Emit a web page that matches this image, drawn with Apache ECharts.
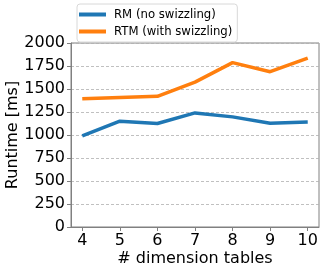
<!DOCTYPE html>
<html><head><meta charset="utf-8">
<script src="https://cdn.jsdelivr.net/npm/echarts@6/dist/echarts.min.js"></script>
<style>html,body{margin:0;padding:0;background:#fff}#c{width:324px;height:273px}</style>
</head><body><div id="c"></div>
<script>
const categories = [4, 5, 6, 7, 8, 9, 10];
const rmValues = [990, 1150, 1125, 1240, 1197, 1128, 1140];
const rtmValues = [1395, 1408, 1420, 1575, 1787, 1688, 1835];
const yTicks = [0, 250, 500, 750, 1000, 1250, 1500, 1750, 2000];
const seriesNames = ['RM (no swizzling)', 'RTM (with swizzling)'];

const chart = echarts.init(document.getElementById('c'), null, {renderer: 'canvas'});
const font = 'DejaVu Sans';
chart.setOption({
  animation: false,
  grid: {left: 71, right: 5, top: 43, bottom: 46, show: true, borderColor: '#808080', borderWidth: 1,
         containLabel: false, outerBoundsMode: 'none'},
  legend: {
    orient: 'vertical', left: 77, top: 4, z: 10,
    backgroundColor: '#fff', borderColor: '#d8d8d8', borderWidth: 1, borderRadius: 3,
    padding: [4, 5, 4, 2], itemGap: 4, itemWidth: 27, itemHeight: 4, icon: 'rect',
    textStyle: {fontFamily: font, fontSize: 11.7, lineHeight: 13, color: '#000', padding: [0, 0, 0, 3]},
    data: seriesNames
  },
  xAxis: {
    type: 'value', min: 3.7, max: 10.3,
    name: '# dimension tables', nameLocation: 'middle', nameGap: 24, nameMoveOverlap: false,
    nameTextStyle: {fontFamily: font, fontSize: 16, color: '#000'},
    axisLine: {show: true, lineStyle: {color: '#808080'}},
    axisTick: {show: true, length: 4, lineStyle: {color: '#808080'}, customValues: categories},
    axisLabel: {fontFamily: font, fontSize: 16, color: '#000', margin: 6, customValues: categories},
    splitLine: {show: false}
  },
  yAxis: {
    type: 'value', min: 0, max: 2000, interval: 250,
    name: 'Runtime [ms]', nameLocation: 'middle', nameGap: 50, nameMoveOverlap: false,
    nameTextStyle: {fontFamily: font, fontSize: 16, color: '#000'},
    axisLine: {show: true, lineStyle: {color: '#808080'}},
    axisTick: {show: true, length: 4, lineStyle: {color: '#808080'}},
    axisLabel: {fontFamily: font, fontSize: 16, color: '#000', margin: 6,
      formatter: v => yTicks.includes(v) ? String(v) : ''},
    splitLine: {show: true, lineStyle: {color: '#b0b0b0', type: [3, 2], width: 0.8}}
  },
  series: [
    {name: seriesNames[0], type: 'line', data: categories.map((c, i) => [c, rmValues[i]]),
     showSymbol: false, symbol: 'none', lineStyle: {width: 3.5, color: '#1f77b4'}, itemStyle: {color: '#1f77b4'}},
    {name: seriesNames[1], type: 'line', data: categories.map((c, i) => [c, rtmValues[i]]),
     showSymbol: false, symbol: 'none', lineStyle: {width: 3.5, color: '#ff7f0e'}, itemStyle: {color: '#ff7f0e'}}
  ]
});
</script></body></html>
